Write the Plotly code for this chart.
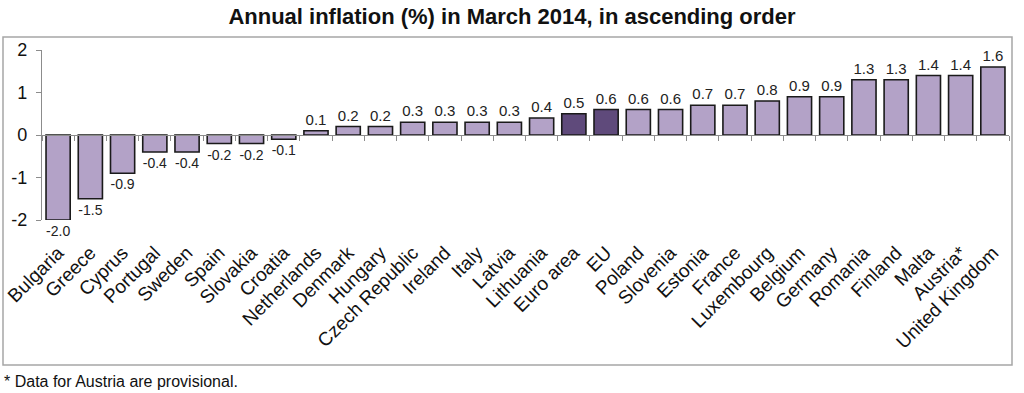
import plotly.graph_objects as go

countries = ["Bulgaria", "Greece", "Cyprus", "Portugal", "Sweden", "Spain", "Slovakia", "Croatia",
             "Netherlands", "Denmark", "Hungary", "Czech Republic", "Ireland", "Italy", "Latvia",
             "Lithuania", "Euro area", "EU", "Poland", "Slovenia", "Estonia", "France", "Luxembourg",
             "Belgium", "Germany", "Romania", "Finland", "Malta", "Austria*", "United Kingdom"]
inflation = [-2.0, -1.5, -0.9, -0.4, -0.4, -0.2, -0.2, -0.1, 0.1, 0.2, 0.2, 0.3, 0.3, 0.3, 0.3,
             0.4, 0.5, 0.6, 0.6, 0.6, 0.7, 0.7, 0.8, 0.9, 0.9, 1.3, 1.3, 1.4, 1.4, 1.6]
highlight = ["Euro area", "EU"]

LIGHT = "#b3a2c7"
DARK = "#5f4a7b"
colors = [DARK if c in highlight else LIGHT for c in countries]
FONT = "Liberation Sans, Arial"

W, H = 1024, 393
ml, mr, mt, mb = 42, 15, 50, 173
pw, ph = W - ml - mr, H - mt - mb
ymin, ymax = -2, 2

def px_x(p):
    return (p - ml) / pw

def px_y(p):
    return (H - mb - p) / ph

fig = go.Figure()
fig.add_trace(go.Bar(
    x=countries, y=inflation,
    marker=dict(color=colors, line=dict(color="#1a1a1a", width=1.6)),
    text=[f"{v:.1f}" for v in inflation], textposition="outside",
    textfont=dict(family=FONT, size=15, color="#222"),
    cliponaxis=False, showlegend=False, hoverinfo="x+y",
))
# helper trace for the axis drawn through zero
fig.add_trace(go.Scatter(x=countries, y=inflation, xaxis="x2", mode="markers",
                         marker=dict(opacity=0), showlegend=False, hoverinfo="skip"))

zero_pos = (0 - ymin) / (ymax - ymin)

fig.update_layout(
    width=W, height=H,
    margin=dict(l=ml, r=mr, t=mt, b=mb, autoexpand=False),
    paper_bgcolor="white", plot_bgcolor="white",
    bargap=0.25,
    title=dict(text="<b>Annual inflation (%) in March 2014, in ascending order</b>",
               x=0.5, xref="container", xanchor="center", y=1 - 16 / H, yanchor="middle",
               font=dict(family=FONT, size=22, color="#111")),
    xaxis=dict(type="category", showline=False, ticks="", tickangle=-45,
               ticklabelstandoff=17, automargin=False,
               tickfont=dict(family=FONT, size=19, color="#111"),
               range=[-0.5, len(countries) - 0.5], showgrid=False, zeroline=False),
    xaxis2=dict(type="category", overlaying="x", matches="x", anchor="free", position=zero_pos,
                side="bottom", showline=True, linecolor="#8c8c8c", linewidth=1.2,
                ticks="outside", tickson="boundaries", ticklen=5, tickcolor="#8c8c8c",
                showticklabels=False, showgrid=False, automargin=False),
    yaxis=dict(range=[ymin, ymax], tickvals=[-2, -1, 0, 1, 2], ticktext=["-2", "-1", "0", "1", "2"],
               showline=True, linecolor="#8c8c8c", linewidth=1.2, ticks="outside", ticklen=5,
               tickcolor="#8c8c8c", showgrid=False, zeroline=False, automargin=False,
               ticklabelstandoff=5,
               tickfont=dict(family=FONT, size=18, color="#111")),
    shapes=[dict(type="rect", xref="paper", yref="paper",
                 x0=px_x(3), x1=px_x(1012), y0=px_y(365), y1=px_y(37),
                 line=dict(color="#a6a6a6", width=1.5), layer="below")],
    annotations=[dict(text="* Data for Austria are provisional.", xref="paper", yref="paper",
                      x=px_x(2), y=px_y(381), xanchor="left", yanchor="middle", showarrow=False,
                      font=dict(family=FONT, size=16, color="#111"))],
)

fig.write_html("out.html", config={"displayModeBar": False},
               post_script="document.body.style.margin='0px';")
